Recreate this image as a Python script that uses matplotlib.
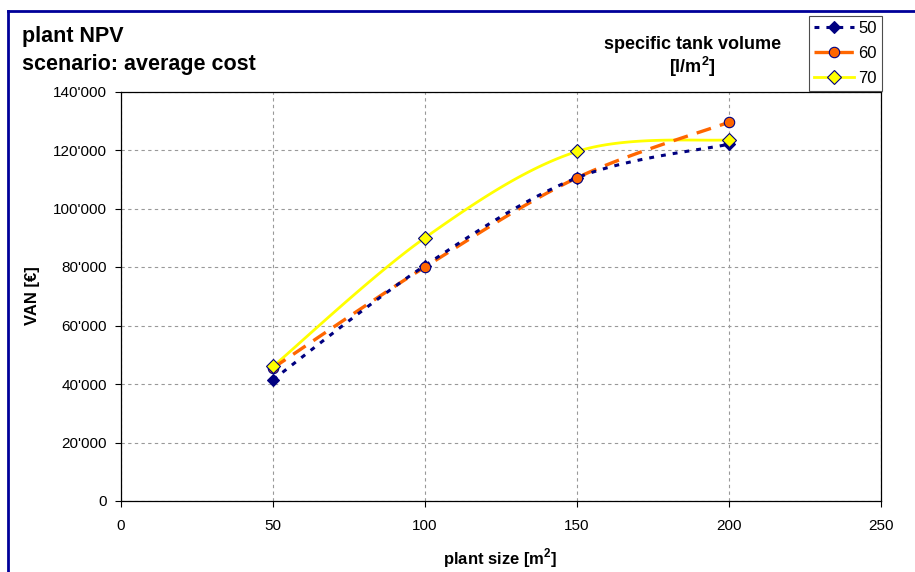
import matplotlib
matplotlib.use("Agg")
import matplotlib.pyplot as plt
import numpy as np
from matplotlib.lines import Line2D
from matplotlib.ticker import FuncFormatter

plt.rcParams["font.family"] = ["Liberation Sans", "DejaVu Sans"]

# plant size [m2]
plant_size = [50, 100, 150, 200]
# VAN [EUR] per specific tank volume [l/m2]
van_50 = [41500, 80500, 110500, 122000]
van_60 = [45500, 80000, 110500, 129500]
van_70 = [46000, 90000, 119500, 123500]

NAVY = "#000080"
ORANGE = "#ff6600"
YELLOW = "#ffff00"
W, H = 915, 572


def smooth(xs, ys, n=40):
    """Courbe lissée façon Excel (Bezier avec tangentes Catmull-Rom)."""
    p = np.column_stack([xs, ys]).astype(float)
    p = np.vstack([p[0], p, p[-1]])
    out = []
    for i in range(1, len(p) - 2):
        p0, p1, p2, p3 = p[i - 1], p[i], p[i + 1], p[i + 2]
        c1 = p1 + (p2 - p0) / 6
        c2 = p2 - (p3 - p1) / 6
        t = np.linspace(0, 1, n)[:, None]
        seg = ((1 - t) ** 3) * p1 + 3 * ((1 - t) ** 2) * t * c1 \
            + 3 * (1 - t) * t ** 2 * c2 + t ** 3 * p2
        out.append(seg if i == 1 else seg[1:])
    seg = np.vstack(out)
    return seg[:, 0], seg[:, 1]


fig = plt.figure(figsize=(W / 100, H / 100), dpi=100)
ax = fig.add_axes([121 / W, 1 - 501 / H, 760 / W, 409.5 / H])

STYLE = {
    "50": dict(color=NAVY, lw=2.2, dashes=(1.6, 2.3), marker="D", ms=6.5,
               mfc=NAVY, mec=NAVY, mew=0.8),
    "60": dict(color=ORANGE, lw=2.4, dashes=(4.5, 2.8), marker="o", ms=7.5,
               mfc=ORANGE, mec=NAVY, mew=0.8),
    "70": dict(color=YELLOW, lw=2, marker="D", ms=7, mfc=YELLOW,
               mec=NAVY, mew=0.8),
}

for z, (lab, ys) in enumerate([("70", van_70), ("60", van_60), ("50", van_50)]):
    st = STYLE[lab]
    line_kw = {k: st[k] for k in ("color", "lw")}
    if "dashes" in st:
        line_kw["dashes"] = st["dashes"]
    sx, sy = smooth(plant_size, ys)
    ax.plot(sx, sy, zorder=2 + z, **line_kw)

# marqueurs : 50 dessous, 70 au-dessus
for z, (lab, ys) in enumerate([("50", van_50), ("60", van_60), ("70", van_70)]):
    st = STYLE[lab]
    ax.plot(plant_size, ys, ls="none", marker=st["marker"], ms=st["ms"],
            mfc=st["mfc"], mec=st["mec"], mew=st["mew"], zorder=6 + z)

ax.set_xlim(0, 250)
ax.set_ylim(0, 140000)
ax.set_xticks(np.arange(0, 251, 50))
ax.set_yticks(np.arange(0, 140001, 20000))
ax.yaxis.set_major_formatter(FuncFormatter(
    lambda v, _: "0" if v == 0 else f"{int(v) // 1000}'000"))
ax.grid(True, color="0.6", ls=(0, (3, 3)), lw=0.8)
ax.set_axisbelow(True)
ax.tick_params(labelsize=11, length=4.3, width=0.8, direction="out")
ax.tick_params(axis="y", pad=6)
ax.tick_params(axis="x", pad=9)
for s in ax.spines.values():
    s.set_linewidth(0.9)

fig.text(500 / W, 1 - 558 / H, "plant size [m$^\\mathregular{2}$]", fontsize=12,
         fontweight="bold", ha="center", va="center")
fig.text(32 / W, 1 - 296 / H, "VAN [€]", fontsize=12, fontweight="bold",
         rotation=90, ha="center", va="center")

fig.text(22 / W, 1 - 42 / H, "plant NPV", fontsize=15.5, fontweight="bold",
         va="baseline")
fig.text(22 / W, 1 - 70 / H, "scenario: average cost", fontsize=15.5,
         fontweight="bold", va="baseline")
fig.text(693 / W, 1 - 49 / H, "specific tank volume", fontsize=13,
         fontweight="bold", ha="center", va="baseline")
fig.text(692 / W, 1 - 73 / H, "[l/m$^\\mathregular{2}$]", fontsize=13,
         fontweight="bold", ha="center", va="baseline")

handles = [Line2D([], [], **STYLE[k]) for k in ("50", "60", "70")]
leg = fig.legend(handles, ["50", "60", "70"], loc="upper right",
                 bbox_to_anchor=(882 / W, 1 - 16 / H), fontsize=12,
                 frameon=True, fancybox=False, handlelength=2.45,
                 handletextpad=0.25, borderpad=0.3, labelspacing=0.6,
                 borderaxespad=0)
leg.get_frame().set_edgecolor("0.3")
leg.get_frame().set_linewidth(0.8)
leg.get_frame().set_alpha(1)

# cadre bleu du graphique (bords gauche et haut visibles)
fig.add_artist(Line2D([8 / W, 8 / W], [0, 1 - 10.5 / H], color="#000099",
                      lw=2, transform=fig.transFigure))
fig.add_artist(Line2D([8 / W, 1], [1 - 10.5 / H, 1 - 10.5 / H], color="#000099",
                      lw=2, transform=fig.transFigure))

fig.savefig("out.png", dpi=100)
